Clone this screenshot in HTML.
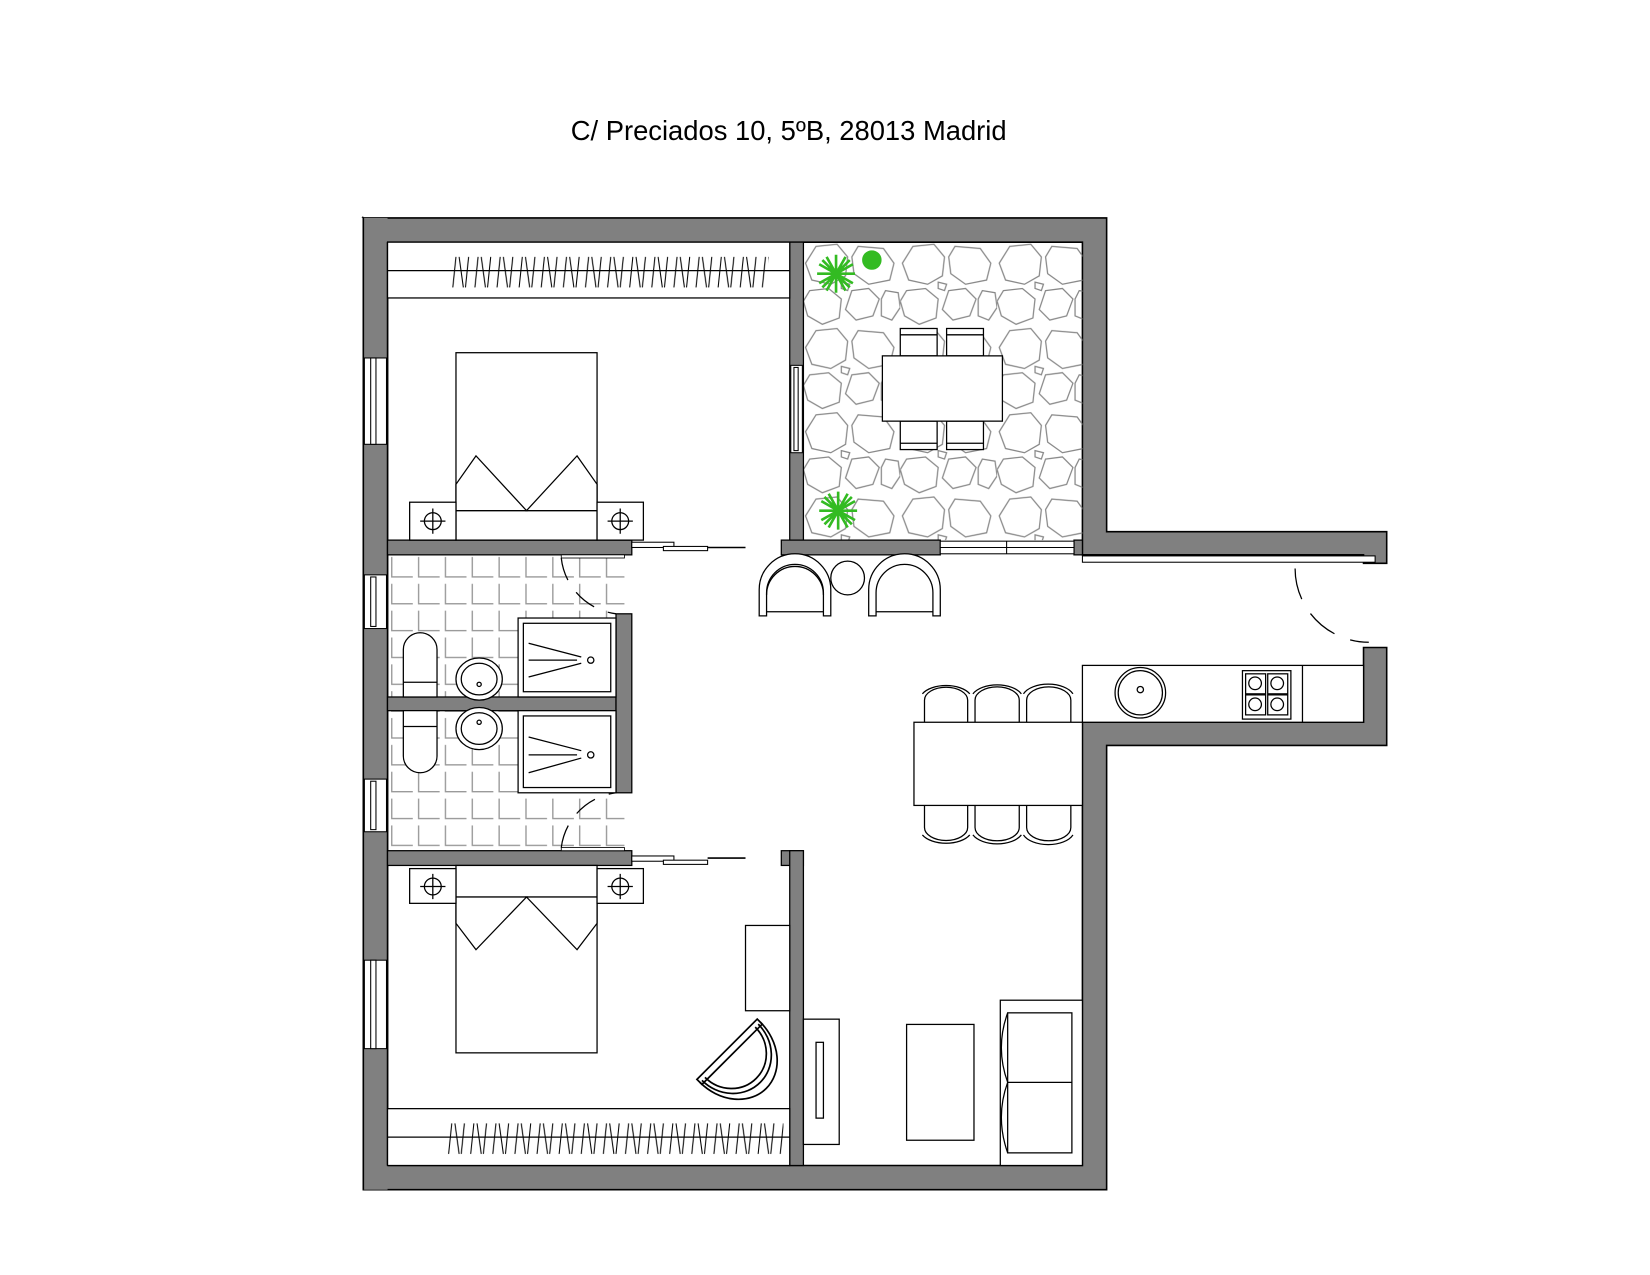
<!DOCTYPE html>
<html><head><meta charset="utf-8"><style>
html,body{margin:0;padding:0;background:#fff;width:1650px;height:1275px;overflow:hidden}
svg{display:block}
</style></head><body>
<svg width="1650" height="1275" viewBox="0 0 1567 1211" xmlns="http://www.w3.org/2000/svg">
<defs>
<pattern id="tiles" x="368" y="527" width="25.5" height="25.5" patternUnits="userSpaceOnUse">
<path d="M4 2 V21 H24" fill="none" stroke="#999" stroke-width="1.3"/>
</pattern>
<pattern id="stones" x="763" y="230" width="92" height="80" patternUnits="userSpaceOnUse">
<g fill="none" stroke="#888" stroke-width="1.2">
<polygon points="12,4 32,2 42,14 40,32 26,40 8,36 2,20"/>
<polygon points="52,4 76,6 86,20 82,36 62,40 48,30 46,14"/>
<polygon points="6,46 24,44 36,54 34,72 18,78 4,70 0,56"/>
<polygon points="46,46 62,44 72,54 66,70 50,74 40,64"/>
<polygon points="78,46 90,48 92,62 84,74 74,70 74,54"/>
<polygon points="36,38 44,40 42,46 36,44"/>
</g>
</pattern>
<pattern id="zig1" x="428" y="243" width="21" height="32" patternUnits="userSpaceOnUse">
<path d="M2 30 L5 1 M8 1 L12 30 M14 30 L17 1" stroke="#000" stroke-width="1" fill="none"/>
</pattern>
<pattern id="zig2" x="424" y="1066" width="21" height="32" patternUnits="userSpaceOnUse">
<path d="M2 30 L5 1 M8 1 L12 30 M14 30 L17 1" stroke="#000" stroke-width="1" fill="none"/>
</pattern>
</defs>

<text x="749" y="133" font-family="Liberation Sans, Arial, sans-serif" font-size="26" text-anchor="middle" fill="#000">C/ Preciados 10, 5ºB, 28013 Madrid</text>

<polygon points="345,207 1051,207 1051,505 1317,505 1317,535 1295,535 1295,527 1028,527 1028,230 368,230" fill="#808080" stroke="#000" stroke-width="1.5"/>
<polygon points="345,207 368,230 368,1107 1028,1107 1028,686 1295,686 1295,615 1317,615 1317,708 1051,708 1051,1130 345,1130" fill="#808080" stroke="#000" stroke-width="1.5"/>
<rect x="345" y="207" width="23" height="923" fill="#808080"/>
<line x1="345" y1="207" x2="345" y2="1130" stroke="#000" stroke-width="1.5"/>
<line x1="368" y1="230" x2="368" y2="1107" stroke="#000" stroke-width="1.5"/>

<rect x="368" y="527" width="225" height="281" fill="url(#tiles)"/>
<rect x="763" y="230" width="265" height="283" fill="url(#stones)"/>

<g fill="#808080" stroke="#000" stroke-width="1.2">
<rect x="750" y="230" width="13" height="297"/>
<rect x="368" y="513" width="232" height="14"/>
<rect x="742" y="513" width="151" height="14"/>
<rect x="1020" y="513" width="8" height="14"/>
<rect x="368" y="662" width="217" height="13"/>
<rect x="585" y="583" width="15" height="170"/>
<rect x="368" y="808" width="232" height="14"/>
<rect x="742" y="808" width="21" height="14"/>
<rect x="750" y="808" width="13" height="299"/>
</g>

<g fill="#fff" stroke="#000" stroke-width="1">
<rect x="346" y="340" width="21" height="82"/><rect x="352" y="340" width="5" height="82"/>
<rect x="346" y="546" width="21" height="51"/><rect x="352" y="548" width="5" height="47"/>
<rect x="346" y="740" width="21" height="50"/><rect x="352" y="742" width="5" height="46"/>
<rect x="346" y="912" width="21" height="84"/><rect x="352" y="912" width="5" height="84"/>
<rect x="751" y="347" width="11" height="83"/><rect x="754" y="349" width="4" height="79"/>
<rect x="893" y="514" width="127" height="12"/><line x1="893" y1="520" x2="1020" y2="520"/><line x1="956" y1="514" x2="956" y2="526"/>
<rect x="1028" y="528" width="278" height="6"/>
</g>
<g stroke="#000" stroke-width="1" fill="#fff">
<rect x="600" y="515" width="40" height="5"/><rect x="630" y="519" width="42" height="4"/><line x1="672" y1="520" x2="708" y2="520" stroke-width="1.5"/>
<rect x="600" y="813" width="40" height="5"/><rect x="630" y="817" width="42" height="4"/><line x1="672" y1="815" x2="708" y2="815" stroke-width="1.5"/>
</g>
<g fill="none" stroke="#000" stroke-width="1.2">
<path d="M533 530 A60 60 0 0 0 585 583" stroke-dasharray="22 14"/>
<rect x="533" y="527" width="60" height="3" fill="#fff" stroke-width="0.8"/>
<path d="M533 805 A60 60 0 0 1 585 753" stroke-dasharray="22 14"/>
<rect x="533" y="805" width="60" height="3" fill="#fff" stroke-width="0.8"/>
<path d="M1230 540 A70 70 0 0 0 1300 610" stroke-dasharray="30 16"/>
</g>

<g fill="none" stroke="#000" stroke-width="1.2">
<rect x="368" y="230" width="382" height="53" fill="#fff"/>
<line x1="368" y1="257" x2="750" y2="257"/>
<rect x="368" y="1053" width="382" height="54" fill="#fff"/>
<line x1="368" y1="1080" x2="750" y2="1080"/>
</g>
<rect x="428" y="243" width="302" height="32" fill="url(#zig1)"/>
<rect x="424" y="1066" width="320" height="32" fill="url(#zig2)"/>

<g fill="#fff" stroke="#000" stroke-width="1.2">
<rect x="433" y="335" width="134" height="178"/>
<line x1="433" y1="485" x2="567" y2="485"/>
<polygon points="433,460 452,433 500,485 433,485"/>
<polygon points="567,460 548,433 500,485 567,485"/>
<rect x="389" y="477" width="44" height="36"/><rect x="567" y="477" width="44" height="36"/>
<circle cx="411" cy="495" r="8"/><circle cx="589" cy="495" r="8"/>
<path d="M399 495 H423 M411 483 V507 M577 495 H601 M589 483 V507" fill="none"/>
</g>
<g fill="#fff" stroke="#000" stroke-width="1.2">
<rect x="433" y="822" width="134" height="178"/>
<line x1="433" y1="852" x2="567" y2="852"/>
<polygon points="433,852 500,852 452,902 433,877"/>
<polygon points="567,852 500,852 548,902 567,877"/>
<rect x="389" y="825" width="44" height="33"/><rect x="567" y="825" width="44" height="33"/>
<circle cx="411" cy="842" r="8"/><circle cx="589" cy="842" r="8"/>
<path d="M399 842 H423 M411 830 V854 M577 842 H601 M589 830 V854" fill="none"/>
</g>

<g fill="#fff" stroke="#000" stroke-width="1.2">
<rect x="492" y="587" width="93" height="75"/><rect x="497" y="592" width="83" height="65"/>
<line x1="502" y1="611" x2="552" y2="624"/><line x1="502" y1="643" x2="552" y2="630"/><line x1="502" y1="627" x2="548" y2="627"/>
<circle cx="561" cy="627" r="3"/>
<rect x="492" y="675" width="93" height="78"/><rect x="497" y="680" width="83" height="68"/>
<line x1="502" y1="700" x2="552" y2="713"/><line x1="502" y1="734" x2="552" y2="720"/><line x1="502" y1="717" x2="548" y2="717"/>
<circle cx="561" cy="717" r="3"/>
<path d="M383 662 V617 A16 16 0 0 1 415 617 V662 Z"/><line x1="383" y1="648" x2="415" y2="648"/>
<path d="M383 675 V718 A16 16 0 0 0 415 718 V675 Z"/><line x1="383" y1="690" x2="415" y2="690"/>
<ellipse cx="455" cy="645" rx="22" ry="20"/><ellipse cx="455" cy="645" rx="17" ry="15"/>
<ellipse cx="455" cy="692" rx="22" ry="20"/><ellipse cx="455" cy="692" rx="17" ry="15"/>
<circle cx="455" cy="650" r="2"/><circle cx="455" cy="686" r="2"/>
</g>

<g fill="#fff" stroke="#000" stroke-width="1.2">
<rect x="855" y="312" width="35" height="26"/><rect x="899" y="312" width="35" height="26"/>
<line x1="855" y1="318" x2="890" y2="318"/><line x1="899" y1="318" x2="934" y2="318"/>
<rect x="855" y="400" width="35" height="27"/><rect x="899" y="400" width="35" height="27"/>
<line x1="855" y1="421" x2="890" y2="421"/><line x1="899" y1="421" x2="934" y2="421"/>
<rect x="838" y="338" width="114" height="62"/>
</g>
<g stroke="#33bb22" stroke-width="2.5" fill="none">
<path d="M776 260 H812 M794 242 V278 M781 247 L807 273 M781 273 L807 247 M785 244 L803 276 M785 276 L803 244 M778 251 L810 269 M778 269 L810 251"/>
<path d="M778 485 H814 M796 467 V503 M783 472 L809 498 M783 498 L809 472 M787 469 L805 501 M787 501 L805 469 M780 476 L812 494 M780 494 L812 476"/>
<circle cx="828" cy="247" r="8" fill="#33bb22"/>
</g>

<g fill="#fff" stroke="#000" stroke-width="1.2">
<path d="M721 585 V560 A34 34 0 0 1 789 560 V585 H782 V563 A27 27 0 0 0 728 563 V585 Z"/>
<path d="M728 565 A27 27 0 0 1 782 565" fill="none"/><line x1="728" y1="581" x2="782" y2="581"/>
<path d="M825 585 V560 A34 34 0 0 1 893 560 V585 H886 V563 A27 27 0 0 0 832 563 V585 Z"/>
<line x1="832" y1="581" x2="886" y2="581"/>
<circle cx="805" cy="549" r="16"/>
</g>

<g fill="#fff" stroke="#000" stroke-width="1.2">
<rect x="1028" y="632" width="267" height="54"/>
<line x1="1237" y1="632" x2="1237" y2="686"/>
<circle cx="1083" cy="658" r="24"/><circle cx="1083" cy="658" r="21"/>
<circle cx="1083" cy="655" r="3"/>
<rect x="1180" y="637" width="46" height="46"/>
<rect x="1183" y="640" width="19" height="19"/><rect x="1204" y="640" width="19" height="19"/>
<rect x="1183" y="660" width="19" height="19"/><rect x="1204" y="660" width="19" height="19"/>
<circle cx="1192" cy="649" r="6"/><circle cx="1213" cy="649" r="6"/><circle cx="1192" cy="669" r="6"/><circle cx="1213" cy="669" r="6"/>
</g>
<g fill="#fff" stroke="#000" stroke-width="1.2">
<path d="M878 686 V665 A20 12 0 0 1 919 665 V686"/><path d="M926 686 V665 A20 12 0 0 1 968 665 V686"/><path d="M975 686 V665 A20 12 0 0 1 1017 665 V686"/>
<path d="M876 659 A25 14 0 0 1 921 659" fill="none"/><path d="M924 659 A25 14 0 0 1 970 659" fill="none"/><path d="M972 659 A25 14 0 0 1 1019 659" fill="none"/>
<path d="M878 765 V786 A20 12 0 0 0 919 786 V765"/><path d="M926 765 V786 A20 12 0 0 0 968 786 V765"/><path d="M975 765 V786 A20 12 0 0 0 1017 786 V765"/>
<path d="M876 793 A25 14 0 0 0 921 793" fill="none"/><path d="M924 793 A25 14 0 0 0 970 793" fill="none"/><path d="M972 793 A25 14 0 0 0 1019 793" fill="none"/>
<rect x="868" y="686" width="160" height="79"/>
</g>

<g fill="#fff" stroke="#000" stroke-width="1.2">
<rect x="708" y="879" width="42" height="81"/>
<g transform="translate(706 1008) scale(1.35) translate(-700 -1006)">
<g transform="rotate(45 697 1006)">
<path d="M685 976 H690 V1036 H685 Z"/>
<path d="M688 978 A30 28 0 0 1 688 1034" fill="none"/>
<path d="M688 976 A36 30 0 0 1 688 1036" fill="none"/>
<path d="M688 981 A26 25 0 0 1 688 1031" fill="none"/>
</g>
</g>
<rect x="763" y="968" width="34" height="119"/><rect x="775" y="990" width="7" height="72"/>
<rect x="861" y="973" width="64" height="110"/>
<rect x="950" y="950" width="78" height="157"/>
<rect x="957" y="962" width="61" height="133"/><line x1="957" y1="1028" x2="1018" y2="1028"/>
<path d="M957 962 Q945 995 957 1028 Q945 1061 957 1095" fill="none"/>
</g>
</svg>
</body></html>
